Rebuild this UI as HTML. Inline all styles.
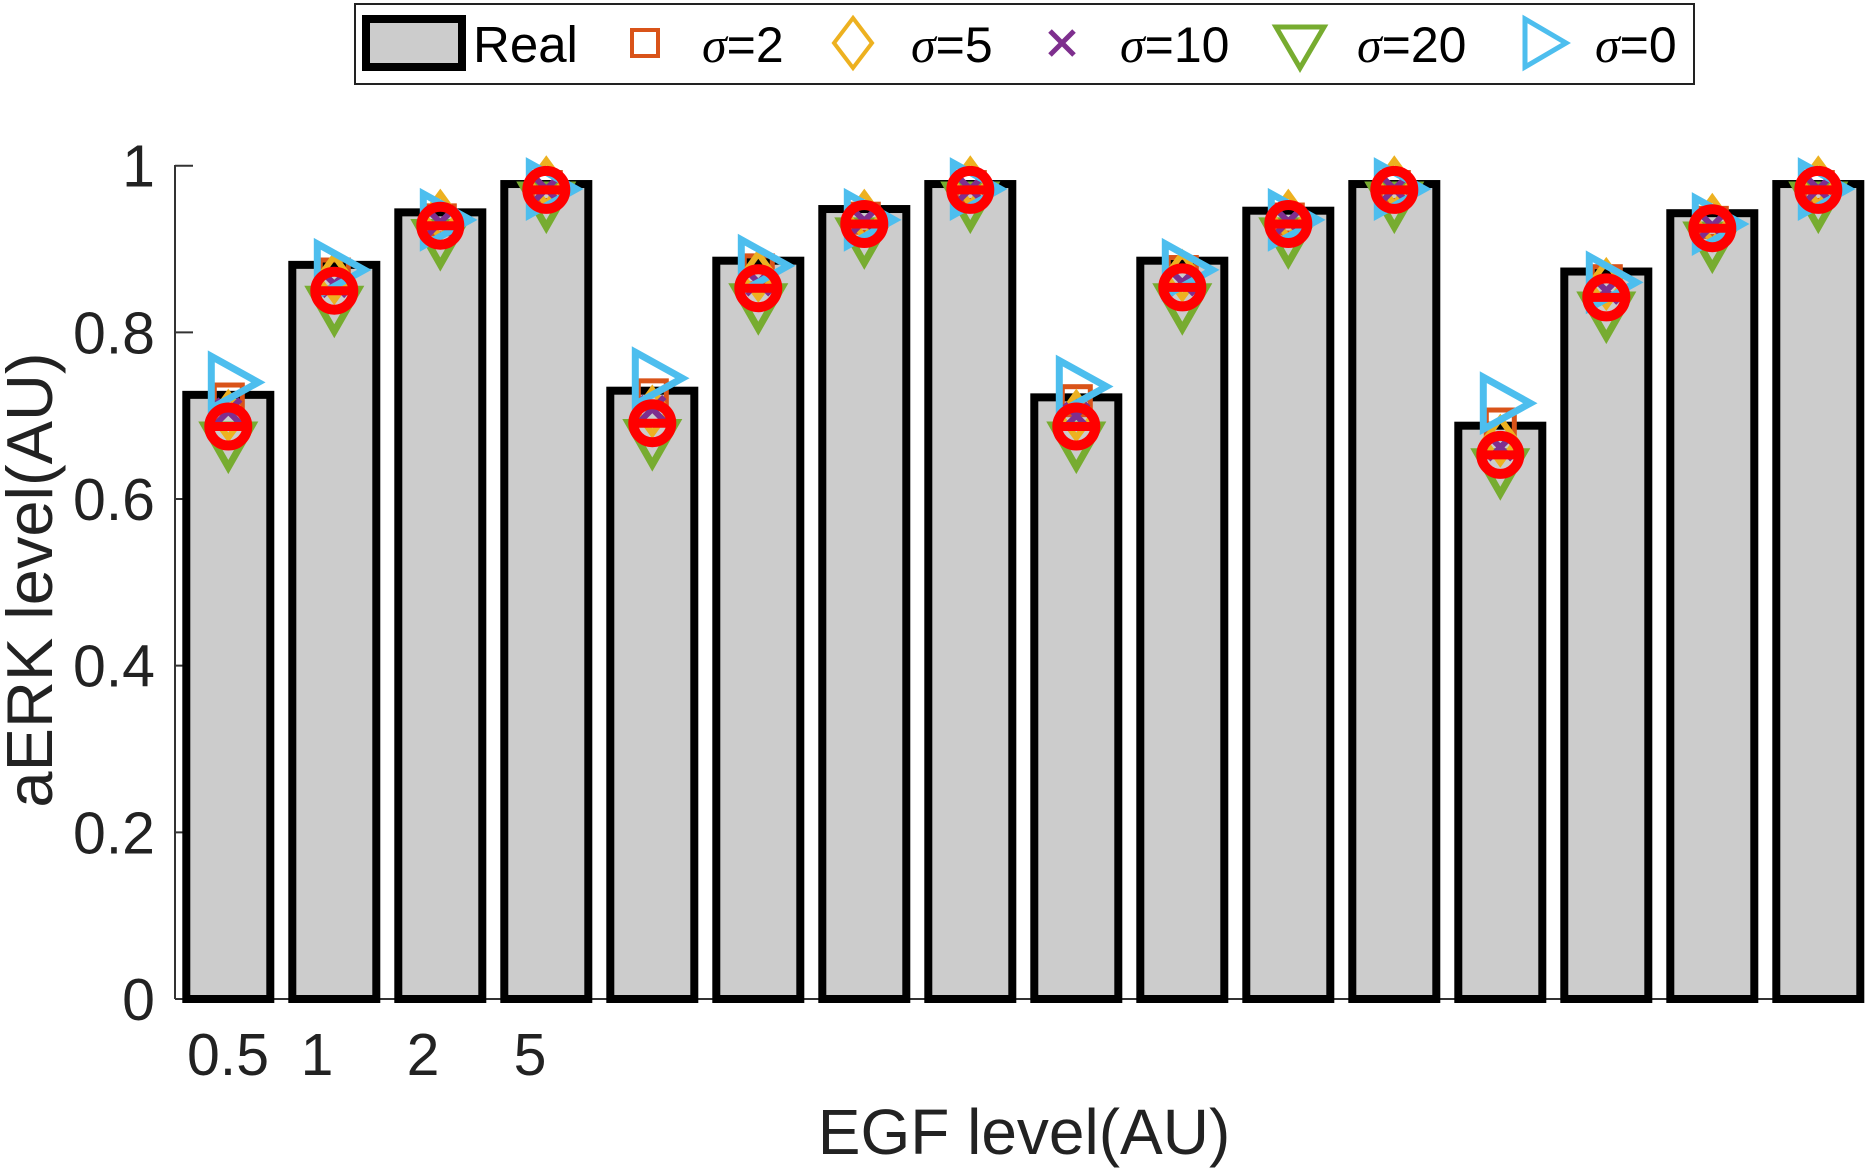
<!DOCTYPE html>
<html><head><meta charset="utf-8"><style>
html,body{margin:0;padding:0;background:#fff;}
svg{display:block;font-family:"Liberation Sans",sans-serif;}
</style></head><body>
<svg id="chart" width="1873" height="1171" viewBox="0 0 1873 1171">
<g id="legend">
<rect x="355" y="4" width="1339" height="80" fill="#fff" stroke="#222" stroke-width="2"/>
<g><rect x="366" y="19" width="96" height="48" fill="#ccc" stroke="#000" stroke-width="8"/><text x="473" y="62" font-size="51">Real</text></g>
<g><rect x="632" y="30" width="26" height="26" fill="none" stroke="#D95319" stroke-width="4"/><text x="702" y="62" font-size="50"><tspan font-style="italic" font-family="Liberation Serif">σ</tspan>=2</text></g>
<g><polygon points="853,18 872,43 853,68 834,43" fill="none" stroke="#EDB120" stroke-width="4"/><text x="911" y="62" font-size="50"><tspan font-style="italic" font-family="Liberation Serif">σ</tspan>=5</text></g>
<g><path d="M1050,31 L1074,55 M1074,31 L1050,55" stroke="#7E2F8E" stroke-width="5"/><text x="1120" y="62" font-size="50"><tspan font-style="italic" font-family="Liberation Serif">σ</tspan>=10</text></g>
<g><polygon points="1276,27 1324,27 1300,68" fill="none" stroke="#77AC30" stroke-width="5"/><text x="1357" y="62" font-size="50"><tspan font-style="italic" font-family="Liberation Serif">σ</tspan>=20</text></g>
<g><polygon points="1525,19 1525,67 1566,43" fill="none" stroke="#4DBEEE" stroke-width="5"/><text x="1595" y="62" font-size="50"><tspan font-style="italic" font-family="Liberation Serif">σ</tspan>=0</text></g>
</g>
<g id="axes"></g>
<g id="bars"></g>
<g id="marks"></g>
<text x="52" y="580" font-size="65" fill="#222" text-anchor="middle" transform="rotate(-90 52 580)">aERK level(AU)</text>
<text x="1024" y="1154" font-size="64" fill="#222" text-anchor="middle">EGF level(AU)</text>
</svg>
<script>
const realValues=[0.725,0.881,0.944,0.978,0.73,0.886,0.948,0.978,0.722,0.886,0.946,0.978,0.688,0.873,0.943,0.978];
const fitValues=[0.687,0.850,0.928,0.971,0.691,0.853,0.930,0.971,0.687,0.854,0.930,0.971,0.653,0.842,0.925,0.971];
const sigma0=[0.740,0.875,0.935,0.972,0.745,0.880,0.935,0.972,0.735,0.875,0.935,0.972,0.715,0.860,0.930,0.972];
const sigma2=[0.720,0.870,0.935,0.975,0.725,0.875,0.937,0.975,0.718,0.873,0.936,0.975,0.690,0.862,0.932,0.975];
const sigma5=[0.700,0.865,0.940,0.980,0.705,0.868,0.940,0.980,0.700,0.868,0.940,0.980,0.670,0.858,0.935,0.980];
const sigma10=[0.705,0.858,0.932,0.972,0.708,0.860,0.934,0.972,0.700,0.860,0.933,0.972,0.662,0.850,0.928,0.972];
const sigma20=[0.672,0.835,0.915,0.960,0.675,0.838,0.917,0.960,0.672,0.838,0.917,0.960,0.640,0.828,0.912,0.960];
const yTicks=[0,0.2,0.4,0.6,0.8,1];
const yTickLabels=["0","0.2","0.4","0.6","0.8","1"];
const xTickLabels=["0.5","1","2","5"];
const xTickPos=[228,317,423,530];

const NS="http://www.w3.org/2000/svg";
const y=v=>999-v*833.3;
const x=i=>228.3+i*106;
function mk(tag,attrs,parent){const e=document.createElementNS(NS,tag);for(const k in attrs)e.setAttribute(k,attrs[k]);parent.appendChild(e);return e;}
const axes=document.getElementById('axes'),bars=document.getElementById('bars'),marks=document.getElementById('marks');
let e=mk('line',{x1:175,y1:165,x2:175,y2:999,stroke:'#333','stroke-width':2},axes);


e=mk('line',{x1:175,y1:999,x2:1862,y2:999,stroke:'#333','stroke-width':2},axes);


yTicks.forEach((t,i)=>{
  mk('line',{x1:175,y1:y(t),x2:193,y2:y(t),stroke:'#333','stroke-width':2},axes);
  const tx=mk('text',{x:155,y:y(t)+21,'font-size':59,fill:'#222','text-anchor':'end'},axes);
  tx.textContent=yTickLabels[i];
  
  
});
xTickLabels.forEach((l,i)=>{
  const tx=mk('text',{x:xTickPos[i],y:1075,'font-size':59,fill:'#222','text-anchor':'middle'},axes);
  tx.textContent=l;
  
  
});
realValues.forEach((v,i)=>{
  const r=mk('rect',{x:x(i)-42,y:y(v),width:84,height:999-y(v),fill:'#ccc',stroke:'#000','stroke-width':8},bars);
  
  
});
function marker(kind,cx,cy){
  let m;
  if(kind==='sq') m=mk('rect',{x:cx-14,y:cy-14,width:28,height:28,fill:'none',stroke:'#D95319','stroke-width':5},marks);
  else if(kind==='di') m=mk('polygon',{points:`${cx},${cy-22} ${cx+16},${cy} ${cx},${cy+22} ${cx-16},${cy}`,fill:'none',stroke:'#EDB120','stroke-width':6},marks);
  else if(kind==='x') m=mk('path',{d:`M${cx-12},${cy-12}L${cx+12},${cy+12}M${cx+12},${cy-12}L${cx-12},${cy+12}`,stroke:'#7E2F8E','stroke-width':6},marks);
  else if(kind==='dn') m=mk('polygon',{points:`${cx-24},${cy-14} ${cx+24},${cy-14} ${cx},${cy+28}`,fill:'none',stroke:'#77AC30','stroke-width':7},marks);
  else if(kind==='rt') m=mk('polygon',{points:`${cx-17},${cy-26} ${cx-17},${cy+26} ${cx+30},${cy}`,fill:'none',stroke:'#4DBEEE','stroke-width':7},marks);
  else {m=mk('g',{},marks);mk('circle',{cx:cx,cy:cy,r:19,fill:'none',stroke:'#f00','stroke-width':10},m);mk('line',{x1:cx-19,y1:cy,x2:cx+19,y2:cy,stroke:'#f00','stroke-width':9},m);}
  return m;
}
const series=[['dn',sigma20,'marker-sigma20'],['sq',sigma2,'marker-sigma2'],['di',sigma5,'marker-sigma5'],['x',sigma10,'marker-sigma10'],['rt',sigma0,'marker-sigma0'],['ci',fitValues,'marker-fit']];
series.forEach(([k,arr,name])=>arr.forEach((v,i)=>{
  const m=marker(k,x(i),y(v));
  
  
}));
</script>
</body></html>
